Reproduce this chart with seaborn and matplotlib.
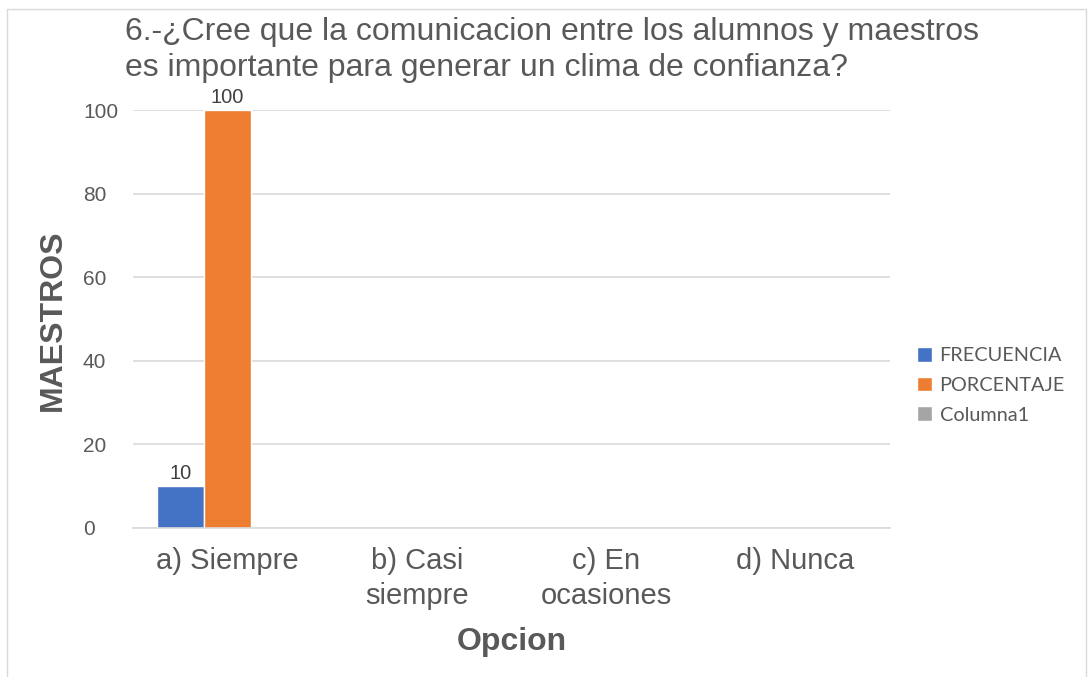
import numpy as np
import pandas as pd
import matplotlib.pyplot as plt
import seaborn as sns
from matplotlib.patches import Rectangle

# Datos
opciones = ['a) Siempre', 'b) Casi\nsiempre', 'c) En\nocasiones', 'd) Nunca']
series = ['FRECUENCIA', 'PORCENTAJE', 'Columna1']
frecuencia = [10, 0, 0, 0]
porcentaje = [100, 0, 0, 0]
columna1 = [0, 0, 0, 0]

colores = ['#4472C4', '#ED7D31', '#A5A5A5']
gris = '#595959'

df = pd.DataFrame({
    'opcion': opciones * 3,
    'serie': [s for s in series for _ in opciones],
    'valor': frecuencia + porcentaje + columna1,
})

sns.set_style('white')
plt.rcParams['font.family'] = ['Liberation Sans', 'DejaVu Sans']

fig = plt.figure(figsize=(10.9, 6.77), dpi=100)
ax = fig.add_axes([0.1220, 0.2201, 0.6945, 0.6174])

sns.barplot(data=df, x='opcion', y='valor', hue='serie', hue_order=series,
            order=opciones, palette=colores, width=0.746, errorbar=None,
            saturation=1, ax=ax)

for cont in ax.containers:
    etiquetas = [f'{v:g}' if v > 0 else '' for v in cont.datavalues]
    ax.bar_label(cont, labels=etiquetas, padding=2, fontsize=14.5, color='#404040')

ax.set_ylim(0, 100)
ax.set_yticks([0, 20, 40, 60, 80, 100])
ax.yaxis.grid(True, color='#D9D9D9', linewidth=1.2)
ax.set_axisbelow(True)
for s in ['top', 'right', 'left']:
    ax.spines[s].set_visible(False)
ax.spines['bottom'].set_color('#D9D9D9')
ax.spines['bottom'].set_linewidth(1.2)
ax.tick_params(axis='both', length=0)
ax.tick_params(axis='y', labelsize=15, labelcolor=gris, pad=36)
for t in ax.get_yticklabels():
    t.set_ha('left')
ax.tick_params(axis='x', labelsize=21, labelcolor=gris, pad=14)
for t in ax.get_xticklabels():
    t.set_multialignment('center')
    t.set_linespacing(1.28)

ax.set_xlabel('Opcion', fontsize=23, fontweight='bold', color=gris)
ax.xaxis.set_label_coords(0.5, -0.238)
ax.set_ylabel('MAESTROS', fontsize=23, fontweight='bold', color=gris)
ax.yaxis.set_label_coords(-0.086, 0.497)

fig.text(0.1147, 0.975, '6.-¿Cree que la comunicacion entre los alumnos y maestros\n'
         'es importante para generar un clima de confianza?',
         fontsize=23, color=gris, ha='left', va='top', linespacing=1.25)

ax.legend(loc='center left', bbox_to_anchor=(0.825, 0.431),
          bbox_transform=fig.transFigure, frameon=False,
          handlelength=0.77, handleheight=0.77, handletextpad=0.36,
          labelspacing=0.62, prop={'family': 'Lato', 'size': 14.3},
          labelcolor=gris)

fig.patches.append(Rectangle((0.006, -0.01), 0.99, 0.997, transform=fig.transFigure,
                             fill=False, edgecolor='#D9D9D9', linewidth=1))

fig.savefig('out.png', dpi=100)
